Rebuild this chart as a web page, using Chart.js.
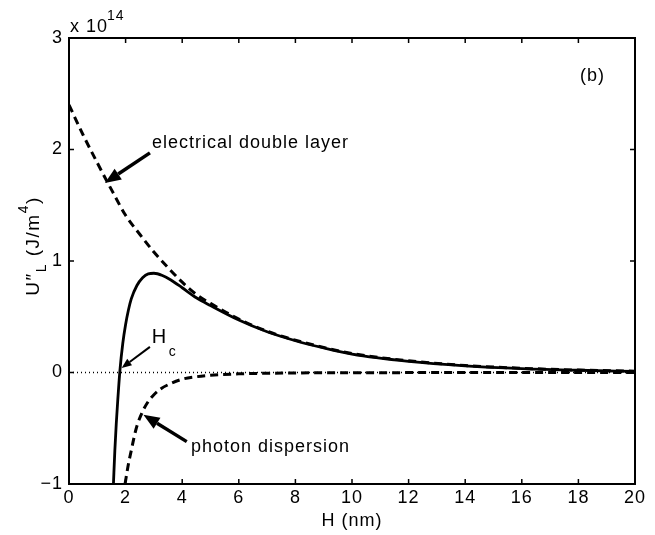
<!DOCTYPE html>
<html><head><meta charset="utf-8">
<script src="https://cdn.jsdelivr.net/npm/chart.js@4/dist/chart.umd.min.js"></script>
<style>html,body{margin:0;padding:0;background:#fff}canvas{display:block}</style>
</head><body>
<canvas id="c" width="655" height="535"></canvas>
<script>
// ---- data (values in units of 1e14 J/m^4) ----
const xTicks = [0,2,4,6,8,10,12,14,16,18,20];
const yTicks = [-1,0,1,2,3];

const H_edl = [0,0.5,1,1.5,2,2.5,3,3.5,4,4.5,5,6,7,8,9,10,12,14,16,18,20];
const U_edl = [2.40,2.13,1.88,1.64,1.41,1.24,1.08,0.94,0.81,0.70,0.62,0.48,0.37,0.29,0.225,0.17,0.105,0.063,0.038,0.022,0.012];

const H_pd = [1.98,2.1,2.2,2.3,2.4,2.6,2.8,3.0,3.25,3.5,4,4.5,5,6,7,8,10,12,15,20];
const U_pd = [-1.00,-0.82,-0.70,-0.58,-0.48,-0.35,-0.26,-0.20,-0.145,-0.11,-0.06,-0.038,-0.025,-0.012,-0.007,-0.004,-0.002,-0.001,0,0];

const H_tot = [1.57,1.62,1.67,1.72,1.8,1.9,2.0,2.1,2.2,2.4,2.6,2.8,3.0,3.3,3.6,4.0,4.5,5,6,7,8,9,10,12,14,16,18,20];
const U_tot = [-1.0,-0.70,-0.46,-0.26,0.02,0.26,0.43,0.56,0.66,0.78,0.85,0.885,0.89,0.87,0.83,0.76,0.67,0.60,0.47,0.365,0.285,0.22,0.165,0.10,0.06,0.035,0.02,0.01];

const H_zero = [0,20];
const U_zero = [0,0];

const FONT = '"Liberation Sans", Arial, Helvetica, sans-serif';
const FS = 18;
const LS = '1px';
const pts = (xs, ys) => xs.map((x,i)=>({x, y: ys[i]}));

function arrow(ctx, x1,y1,x2,y2, lw, hl, hw){
  const a = Math.atan2(y2-y1, x2-x1);
  const bx = x2 - hl*Math.cos(a), by = y2 - hl*Math.sin(a);
  ctx.save();
  ctx.strokeStyle='#000'; ctx.fillStyle='#000'; ctx.lineWidth=lw; ctx.lineCap='butt';
  ctx.beginPath(); ctx.moveTo(x1,y1); ctx.lineTo(bx,by); ctx.stroke();
  ctx.beginPath();
  ctx.moveTo(x2,y2);
  ctx.lineTo(bx + hw/2*Math.sin(a), by - hw/2*Math.cos(a));
  ctx.lineTo(bx - hw/2*Math.sin(a), by + hw/2*Math.cos(a));
  ctx.closePath(); ctx.fill();
  ctx.restore();
}

const spacing = {
  id:'spacing',
  beforeLayout(chart){ chart.ctx.letterSpacing = LS; },
  beforeDraw(chart){ chart.ctx.letterSpacing = LS; }
};

const decor = {
  id: 'decor',
  afterDatasetsDraw(chart){
    const ctx = chart.ctx, a = chart.chartArea;
    const xs = chart.scales.x, ys = chart.scales.y;
    ctx.save();
    ctx.letterSpacing = LS;
    // frame
    ctx.strokeStyle = '#000'; ctx.lineWidth = 2;
    ctx.strokeRect(a.left, a.top, a.right-a.left, a.bottom-a.top);
    // inward ticks
    ctx.lineWidth = 1.5;
    const tl = 5;
    xTicks.forEach(v=>{
      const p = xs.getPixelForValue(v);
      ctx.beginPath(); ctx.moveTo(p,a.bottom); ctx.lineTo(p,a.bottom-tl);
      ctx.moveTo(p,a.top); ctx.lineTo(p,a.top+tl); ctx.stroke();
    });
    yTicks.forEach(v=>{
      const p = ys.getPixelForValue(v);
      ctx.beginPath(); ctx.moveTo(a.left,p); ctx.lineTo(a.left+tl,p);
      ctx.moveTo(a.right,p); ctx.lineTo(a.right-tl,p); ctx.stroke();
    });
    const X = v=>xs.getPixelForValue(v), Y = v=>ys.getPixelForValue(v);
    // arrows
    arrow(ctx, X(2.86),Y(1.97), X(1.27),Y(1.70), 3.5, 16, 13);
    arrow(ctx, X(4.16),Y(-0.62), X(2.63),Y(-0.38), 3.5, 16, 13);
    arrow(ctx, X(2.86),Y(0.23), X(1.86),Y(0.04), 2, 10, 8);
    // annotation texts
    ctx.fillStyle = '#000';
    ctx.textBaseline = 'middle'; ctx.textAlign = 'left';
    ctx.font = FS + 'px ' + FONT;
    ctx.fillText('electrical double layer', X(2.93), Y(2.06));
    ctx.fillText('photon dispersion', X(4.31), Y(-0.67));
    ctx.fillText('(b)', X(18.06), Y(2.66));
    ctx.font = '20px ' + FONT;
    ctx.fillText('H', X(2.92), Y(0.31));
    ctx.font = '14px ' + FONT;
    ctx.fillText('c', X(2.92)+17, Y(0.31)+14);
    // exponent label
    ctx.font = FS + 'px ' + FONT;
    const w10 = ctx.measureText('x 10').width;
    ctx.fillText('x 10', a.left+1, a.top-11);
    ctx.font = '14px ' + FONT;
    ctx.fillText('14', a.left+w10, a.top-22);
    // y axis title (rotated, with sub/superscripts)
    ctx.translate(34, 246);
    ctx.rotate(-Math.PI/2);
    ctx.letterSpacing = '1.5px';
    const big = '19px ' + FONT, small = '14px ' + FONT;
    const parts = [
      {t:'U\u2033', f:big, dy:0},
      {t:'L', f:small, dy:8},
      {t:' (J/m', f:big, dy:0},
      {t:'4', f:small, dy:-10},
      {t:')', f:big, dy:0}
    ];
    let w = 0;
    parts.forEach(p=>{ctx.font=p.f; p.w = ctx.measureText(p.t).width; w += p.w;});
    let cx = -w/2;
    parts.forEach(p=>{ctx.font=p.f; ctx.fillText(p.t, cx, p.dy); cx += p.w;});
    ctx.restore();
  }
};

new Chart(document.getElementById('c'), {
  type: 'scatter',
  data: {
    datasets: [
      {data: pts(H_zero,U_zero), showLine:true, borderColor:'#000', borderWidth:1.5, borderDash:[1,3], pointRadius:0},
      {data: pts(H_pd,U_pd), showLine:true, borderColor:'#000', borderWidth:3, borderDash:[8,5], pointRadius:0, cubicInterpolationMode:'monotone'},
      {data: pts(H_edl,U_edl), showLine:true, borderColor:'#000', borderWidth:3, borderDash:[8,5], pointRadius:0, cubicInterpolationMode:'monotone'},
      {data: pts(H_tot,U_tot), showLine:true, borderColor:'#000', borderWidth:2.8, pointRadius:0, cubicInterpolationMode:'monotone'}
    ]
  },
  options: {
    responsive:false, animation:false, events:[],
    layout:{padding:{left:0, right:20, top:38, bottom:0}},
    plugins:{legend:{display:false}, tooltip:{enabled:false}},
    scales:{
      x:{type:'linear', min:0, max:20,
         afterFit(s){ s.height = 51; },
         afterBuildTicks(s){ s.ticks = xTicks.map(v=>({value:v})); },
         ticks:{color:'#000', font:{family:FONT, size:FS}, padding:3, maxRotation:0, autoSkip:false},
         grid:{display:false, drawTicks:false}, border:{display:false},
         title:{display:true, text:'H (nm)', color:'#000', font:{family:FONT, size:FS}, padding:{top:0,bottom:3}}
      },
      y:{type:'linear', min:-1, max:3,
         afterFit(s){ s.width = 69; },
         afterBuildTicks(s){ s.ticks = yTicks.map(v=>({value:v})); },
         ticks:{color:'#000', font:{family:FONT, size:FS}, padding:6, autoSkip:false,
                callback:v=> v<0 ? '\u2212'+Math.abs(v) : String(v)},
         grid:{display:false, drawTicks:false}, border:{display:false}
      }
    }
  },
  plugins:[spacing, decor]
});
</script>
</body></html>
